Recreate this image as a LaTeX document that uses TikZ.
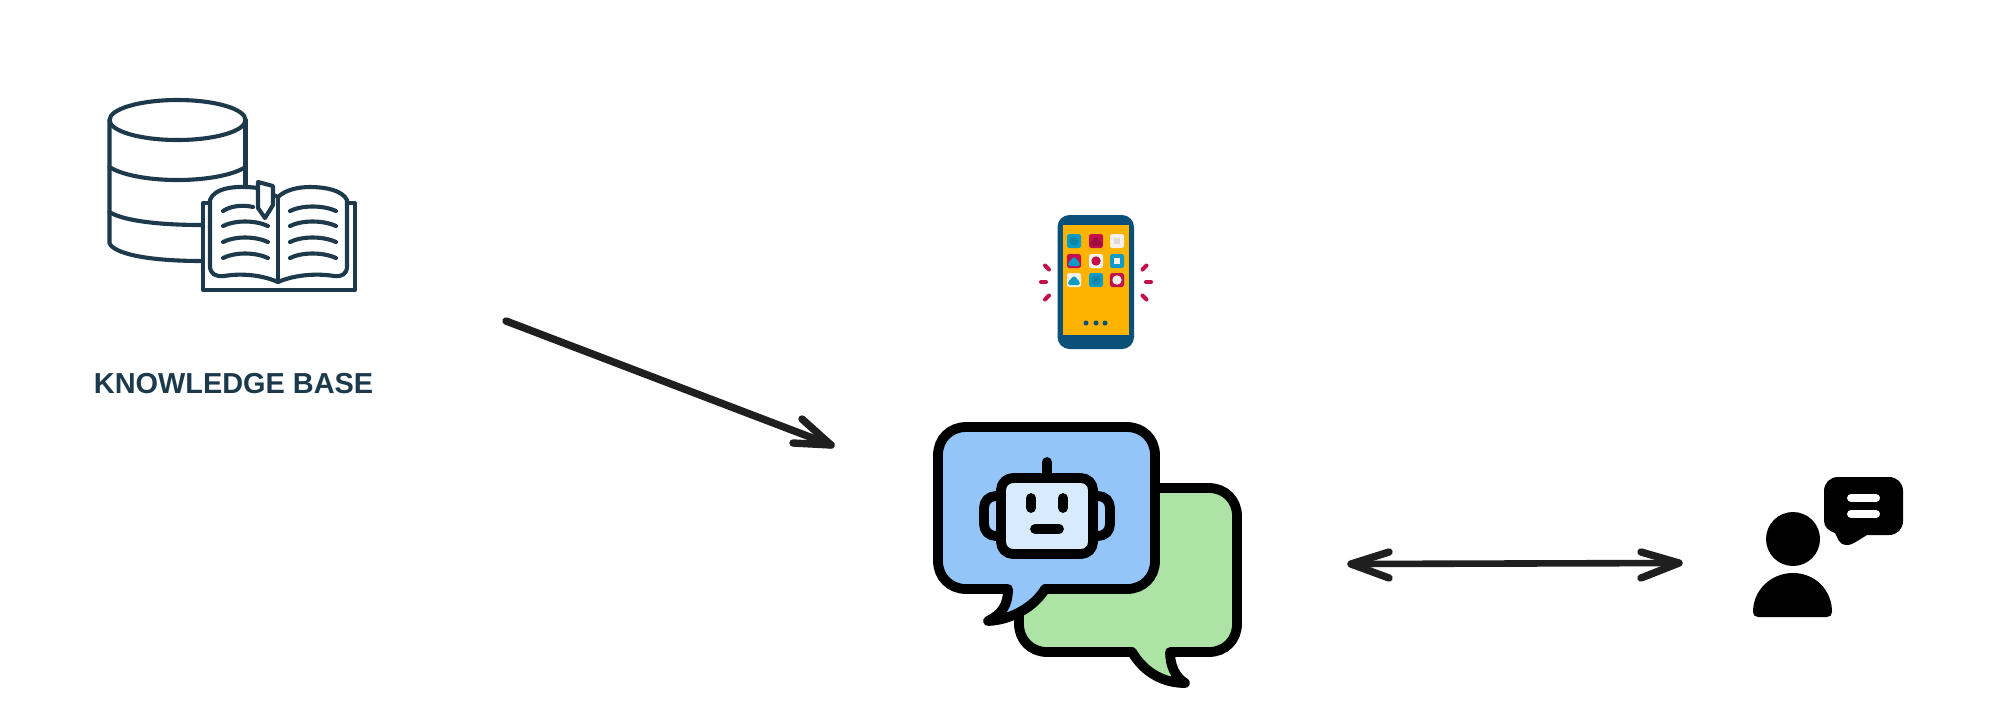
\documentclass[tikz,border=0pt]{standalone}
\usepackage{fontspec}
\setmainfont{Liberation Sans}
\definecolor{ink}{HTML}{1C3A4B}
\definecolor{arrowink}{HTML}{1F1F1F}
\definecolor{phoneblue}{HTML}{0B5079}
\definecolor{phoneyellow}{HTML}{FDB300}
\definecolor{appteal}{HTML}{0A9CC4}
\definecolor{apptealdark}{HTML}{0A86AC}
\definecolor{appred}{HTML}{C30F4E}
\definecolor{appreddark}{HTML}{9C0C3F}
\definecolor{appwhite}{HTML}{F5F2EE}
\definecolor{appgrey}{HTML}{DEDBD6}
\definecolor{botblue}{HTML}{93C5F8}
\definecolor{botlight}{HTML}{D8EAFD}
\definecolor{botgreen}{HTML}{ADE3A5}
\tikzset{
  x=0.5pt,y=-0.5pt,
  dbline/.style={draw=ink,line width=2.05pt,line cap=round,line join=round},
  botline/.style={draw=black,line width=4.9pt,line cap=round,line join=round},
  conn/.style={draw=arrowink,line width=3.3pt,line cap=round,line join=round},
  headstroke/.style={draw=arrowink,line width=3.7pt,line cap=round,line join=round},
  tick/.style={draw=appred,line width=2pt,line cap=round},
  app/.style={rounded corners=1.2pt},
}
\newcommand{\appicon}[3]{\fill[#3,app] (#1-7,#2-7) rectangle (#1+7,#2+7);}
\begin{document}
\begin{tikzpicture}
\useasboundingbox (0,0) rectangle (2000,725);
\fill[white] (0,0) rectangle (2000,725);

% ---------- database ----------
\draw[dbline] (177.5,120) ellipse [x radius=68,y radius=20];
\draw[dbline] (109.5,120) -- (109.5,243) .. controls (113,253) and (145,261) .. (202,261);
\draw[dbline] (245.5,120) -- (245.5,186);
\draw[dbline] (109.5,167) .. controls (120,174) and (145,180) .. (177.5,180) .. controls (210,180) and (235,174) .. (245.5,167);
\draw[dbline] (109.5,212) .. controls (120,219) and (150,225) .. (202,225);

% ---------- book ----------
\draw[dbline,fill=white] (210,203) -- (203,203) -- (203,290) -- (355,290) -- (355,203) -- (347,203);
\draw[dbline,fill=white] (258,188) .. controls (235,185) and (214,188) .. (210,200) -- (210,266)
  .. controls (210,274) and (216,277) .. (224,276)
  .. controls (242,273) and (262,275) .. (278,282)
  .. controls (294,275) and (316,273) .. (334,276)
  .. controls (342,277) and (347,274) .. (347,266) -- (347,200)
  .. controls (342,190) and (325,187) .. (310,187)
  .. controls (298,187) and (285,190) .. (278,197) -- (258,188);
\draw[dbline] (278,197) -- (278,282);
\draw[dbline,fill=white] (258,182) -- (273,186) -- (273,205) -- (265,218) -- (258,208) -- cycle;
\draw[dbline] (223,211) .. controls (232,205) and (245,205) .. (253,207);
\foreach \yy in {226,242,258}{
  \draw[dbline] (223,\yy) .. controls (235,\yy-6) and (255,\yy-6) .. (268,\yy);
}
\foreach \yy in {211,226,242,258}{
  \draw[dbline] (290,\yy) .. controls (302,\yy-6) and (323,\yy-6) .. (336,\yy);
}
\node[anchor=base west,inner sep=0pt,text=ink,font=\fontsize{14.45pt}{16pt}\selectfont\bfseries] (kblabel) at (93.5,393) {KNOWLEDGE BASE};

% ---------- phone ----------
\fill[phoneblue,rounded corners=6pt] (1057.5,215) rectangle (1134,349);
\fill[phoneyellow] (1063,225) rectangle (1129,335);
\fill[phoneblue,rounded corners=0.8pt] (1088,219) rectangle (1100,221.5);
\fill[phoneblue] (1103,220) circle (1.2);
\fill[phoneblue,rounded corners=1.2pt] (1091,339.5) rectangle (1101,344.5);
\foreach \xx in {1086,1096,1105}{\fill[phoneblue] (\xx,323) circle (2.5);}
\appicon{1074}{241}{appteal}
\fill[apptealdark] (1074,241) circle (4.7);
\appicon{1096}{241}{appred}
\fill[appreddark,rounded corners=0.8pt] (1090,246) -- (1090,243) -- (1096,236.5) -- (1102,243) -- (1102,246) -- cycle;
\appicon{1117}{241}{appwhite}
\fill[appgrey] (1114,238) rectangle (1120,244);
\appicon{1074}{261}{appred}
\fill[appteal,rounded corners=0.8pt] (1068,266) -- (1068,263) -- (1074,256.5) -- (1080,263) -- (1080,266) -- cycle;
\appicon{1096}{261}{appwhite}
\fill[appred] (1096,261) circle (4.7);
\appicon{1117}{261}{appteal}
\fill[appwhite] (1114,258) rectangle (1120,264);
\appicon{1074}{280}{appwhite}
\fill[appteal,rounded corners=0.8pt] (1068,285) -- (1068,282) -- (1074,275.5) -- (1080,282) -- (1080,285) -- cycle;
\appicon{1096}{280}{appteal}
\fill[apptealdark] (1096,280) circle (4.7);
\appicon{1117}{280}{appred}
\fill[appwhite] (1117,280) circle (4.7);
\draw[tick] (1045,265.5) -- (1049,269.5);
\draw[tick] (1041,282) -- (1046,282);
\draw[tick] (1045,299.5) -- (1049,295.5);
\draw[tick] (1142.5,269.5) -- (1146.5,265.5);
\draw[tick] (1146,282) -- (1151,282);
\draw[tick] (1142.5,295.5) -- (1146.5,299.5);

% ---------- chat bot ----------
\draw[botline,fill=botgreen] (1019,488) -- (1209,488) .. controls (1225,488) and (1237,500) .. (1237,516)
  -- (1237,624) .. controls (1237,640) and (1225,652) .. (1209,652) -- (1170,652)
  .. controls (1170,665) and (1175,677) .. (1185,683)
  .. controls (1165,683) and (1145,674) .. (1132,652) -- (1047,652)
  .. controls (1031,652) and (1019,640) .. (1019,624) -- cycle;
\draw[botline,fill=botblue] (966,427) -- (1127,427) .. controls (1143,427) and (1155,439) .. (1155,455)
  -- (1155,561) .. controls (1155,577) and (1143,589) .. (1127,589) -- (1045,589)
  .. controls (1035,606) and (1012,620) .. (988,621)
  .. controls (1002,614) and (1008,605) .. (1008,589) -- (966,589)
  .. controls (950,589) and (938,577) .. (938,561) -- (938,455)
  .. controls (938,439) and (950,427) .. (966,427) -- cycle;
\draw[botline] (1047,462) -- (1047,478);
\draw[botline,fill=botblue!70!botlight] (1001,496) -- (996,496) .. controls (989,496) and (984,501) .. (984,508)
  -- (984,524) .. controls (984,531) and (989,536) .. (996,536) -- (1001,536);
\draw[botline,fill=botblue!70!botlight] (1093,496) -- (1098,496) .. controls (1105,496) and (1110,501) .. (1110,508)
  -- (1110,524) .. controls (1110,531) and (1105,536) .. (1098,536) -- (1093,536);
\draw[botline,fill=botlight,rounded corners=6pt] (1001,478) rectangle (1093,554);
\draw[botline] (1031,498) -- (1031,508);
\draw[botline] (1063,498) -- (1063,508);
\draw[botline] (1035,529) -- (1059,529);

% ---------- user ----------
\fill[black] (1793,539) circle (27);
\fill[black] (1758,617) -- (1827,617) .. controls (1830,617) and (1832,615) .. (1832,612)
  .. controls (1832,590) and (1815,573) .. (1793,573)
  .. controls (1771,573) and (1753,590) .. (1753,612)
  .. controls (1753,615) and (1755,617) .. (1758,617) -- cycle;
\fill[black] (1838,477) -- (1889,477) .. controls (1897,477) and (1903,483) .. (1903,491)
  -- (1903,521) .. controls (1903,529) and (1897,535) .. (1889,535) -- (1867,535) -- (1854,543)
  .. controls (1849,546) and (1842,546) .. (1839,541) -- (1835,533)
  .. controls (1829,531) and (1824,527) .. (1824,521) -- (1824,491)
  .. controls (1824,483) and (1830,477) .. (1838,477) -- cycle;
\draw[white,line width=4pt,line cap=round] (1851,498) -- (1876,498);
\draw[white,line width=4pt,line cap=round] (1851,514) -- (1876,514);

% ---------- connectors ----------
\coordinate (kbout) at (506,321);
\coordinate (botin) at (831,445);
\coordinate (botinA) at (802,419);
\coordinate (botinB) at (793,443);
\coordinate (botport) at (1351,564);
\coordinate (userport) at (1679,563);
\coordinate (botportA) at (1389,552);
\coordinate (botportB) at (1389,578);
\coordinate (userportA) at (1641,552);
\coordinate (userportB) at (1641,578);
\draw[conn,line width=3.7pt] (kbout) -- (botin);
\draw[headstroke] (botinA) -- (botin) -- (botinB);
\draw[conn] (botport) -- (userport);
\draw[headstroke] (botportA) -- (botport) -- (botportB);
\draw[headstroke] (userportA) -- (userport) -- (userportB);
\end{tikzpicture}
\end{document}
